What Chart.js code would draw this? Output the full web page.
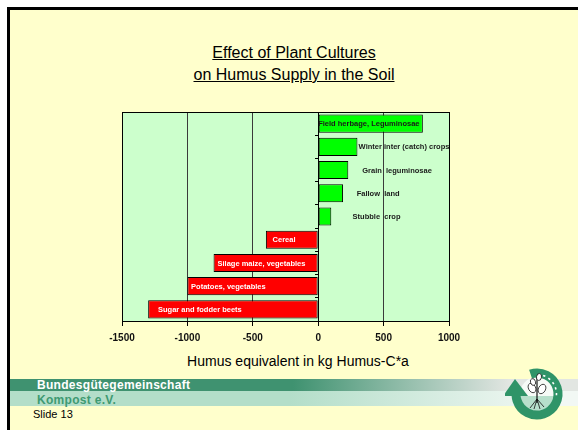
<!DOCTYPE html>
<html>
<head>
<meta charset="utf-8">
<script src="https://cdn.jsdelivr.net/npm/chart.js@4.4.0/dist/chart.umd.min.js"></script>
<style>
  body { margin: 0; width: 578px; height: 430px; overflow: hidden; position: relative; background: #fff;
         font-family: "Liberation Sans", Arial, sans-serif; }
  #slide { position: absolute; left: 7px; top: 7px; width: 600px; height: 440px;
           border-left: 3px solid #000; border-top: 3px solid #000; background: #FFFFCC; }
  #ghost { position: absolute; left: 6px; top: -17px; font-size: 18px; font-weight: bold; color: #9a9a9a; }
  #title { position: absolute; left: 94px; top: 42px; width: 400px; text-align: center;
           font-size: 16px; line-height: 22px; color: #000; text-decoration: underline; }
  #xtitle { position: absolute; left: 98px; top: 353px; width: 400px; text-align: center;
            font-size: 14px; line-height: 16px; color: #000; }
  #barDark { position: absolute; left: 10px; top: 379px; width: 568px; height: 12px;
             background: linear-gradient(to right, #3F9270 0, #3F9270 283px, #E2E6E2 500px); }
  #barLight { position: absolute; left: 10px; top: 391px; width: 568px; height: 15px;
              background: linear-gradient(to right, #B3DEC9 0, #B3DEC9 280px, #F2F8F4 540px); }
  #org1 { position: absolute; left: 37px; top: 379px; font-size: 12px; line-height: 12px; font-weight: bold;
          color: #fff; letter-spacing: 0.3px; }
  #org2 { position: absolute; left: 37px; top: 394px; font-size: 12px; line-height: 12px; font-weight: bold;
          color: #3E9A72; letter-spacing: 0.3px; }
  #slideNo { position: absolute; left: 33px; top: 409px; font-size: 11px; line-height: 11px; color: #000; }
  #wrap { position: absolute; left: 0; top: 0; width: 578px; height: 430px; }
  #logo { position: absolute; left: 505px; top: 362px; }
</style>
</head>
<body>
<div id="slide"></div>
<div id="ghost">Slide 13</div>
<div id="title">Effect of Plant Cultures<br>on Humus Supply in the Soil</div>
<div id="barDark"></div>
<div id="barLight"></div>
<div id="org1">Bundesgütegemeinschaft</div>
<div id="org2">Kompost e.V.</div>
<div id="slideNo">Slide 13</div>
<div id="xtitle">Humus equivalent in kg Humus-C*a</div>
<canvas id="logo" width="66" height="66"></canvas>
<div id="wrap"><canvas id="humusChart"></canvas></div>

<script>
// categories top to bottom
const categories = ['Field herbage, Leguminosae', 'Winter inter (catch) crops', 'Grain  leguminosae',
  'Fallow  land', 'Stubble  crop', 'Cereal', 'Silage maize, vegetables', 'Potatoes, vegetables',
  'Sugar and fodder beets'];
// humus equivalent, kg Humus-C per year
const humus = [800, 300, 230, 190, 100, -400, -800, -1000, -1300];
const xTicks = [-1500, -1000, -500, 0, 500, 1000];

Chart.defaults.font.family = '"Liberation Sans", Arial, sans-serif';

// light green plot background + top border
const plotBg = {
  id: 'plotBg',
  beforeDraw(chart) {
    const ctx = chart.ctx, a = chart.chartArea;
    ctx.save();
    ctx.fillStyle = '#CCFFCC';
    ctx.fillRect(a.left, a.top, a.right - a.left, a.bottom - a.top);
    ctx.restore();
  },
  afterDraw(chart) {
    const ctx = chart.ctx, a = chart.chartArea;
    ctx.save();
    ctx.strokeStyle = '#000';
    ctx.lineWidth = 1;
    ctx.beginPath();
    ctx.moveTo(Math.round(a.left), Math.round(a.top) + 0.5);
    ctx.lineTo(Math.round(a.right) + 1, Math.round(a.top) + 0.5);
    ctx.stroke();
    ctx.restore();
  }
};

// category names written on / next to the bars
const barLabels = {
  id: 'barLabels',
  afterDatasetsDraw(chart, args, opts) {
    const ctx = chart.ctx;
    const meta = chart.getDatasetMeta(0);
    const x = chart.scales.x;
    ctx.save();
    ctx.font = 'bold 7.5px "Liberation Sans", Arial, sans-serif';
    ctx.textBaseline = 'middle';
    meta.data.forEach(function(bar, i) {
      ctx.fillStyle = humus[i] < 0 ? '#ffffff' : '#1a1a1a';
      ctx.fillText(categories[i], x.getPixelForValue(opts.starts[i]), bar.y + 0.5);
    });
    ctx.restore();
  }
};

const ctx = document.getElementById('humusChart').getContext('2d');
const chart = new Chart(ctx, {
  type: 'bar',
  data: {
    labels: categories,
    datasets: [{
      data: humus,
      backgroundColor: humus.map(v => v < 0 ? '#FF0000' : '#00FF00'),
      borderColor: '#000',
      borderWidth: 1,
      borderSkipped: false,
      barPercentage: 0.78,
      categoryPercentage: 1
    }]
  },
  options: {
    indexAxis: 'y',
    responsive: true,
    maintainAspectRatio: false,
    animation: false,
    events: [],
    layout: { padding: { left: 122, right: 129, top: 112, bottom: 80 } },
    plugins: {
      legend: { display: false },
      tooltip: { enabled: false },
      barLabels: { starts: [0, 309, 337, 294, 263, -349, -770, -972, -1225] }
    },
    scales: {
      x: {
        type: 'linear',
        min: -1500,
        max: 1000,
        afterBuildTicks: s => { s.ticks = xTicks.map(v => ({ value: v })); },
        grid: {
          color: c => (c.tick && [-1500, 0, 1000].includes(c.tick.value)) ? '#000' : '#3a3a3a',
          tickColor: '#000',
          tickLength: 5,
          lineWidth: 1
        },
        border: { color: '#000' },
        ticks: { color: '#111', padding: 6, font: { size: 10, weight: 'bold' }, callback: v => String(v) }
      },
      y: {
        type: 'category',
        position: { x: 0 },
        offset: true,
        grid: { drawOnChartArea: false, offset: true, tickLength: 3, color: '#000' },
        border: { color: '#000' },
        ticks: { display: false }
      }
    }
  },
  plugins: [plotBg, barLabels]
});

// association logo: green circular arrow with a plant
function drawLogo() {
  const g = document.getElementById('logo').getContext('2d');
  const cx = 32, cy = 32, r = 21;
  // inner disc
  g.fillStyle = '#F6FAF6';
  g.beginPath(); g.arc(cx, cy, 17, 0, Math.PI * 2); g.fill();
  g.fillStyle = '#B7DFCB';
  g.beginPath(); g.arc(cx, cy, 17, 0.12, Math.PI - 0.12); g.closePath(); g.fill();
  // ring
  g.strokeStyle = '#2F9468';
  g.lineWidth = 9;
  g.beginPath(); g.arc(cx, cy, r, -Math.PI * 0.6, Math.PI * 0.98); g.stroke();
  // arrow head pointing up on the left
  g.fillStyle = '#2F9468';
  g.beginPath(); g.moveTo(cx - r - 13, cy + 2); g.lineTo(cx - r + 12, cy + 2); g.lineTo(cx - r - 1, cy - 15); g.closePath(); g.fill();
  // white dashes on the ring
  g.strokeStyle = '#fff';
  g.lineWidth = 1.6;
  [-1.25, -0.95, -0.65, -0.35, -0.05].forEach(function(a) {
    g.beginPath();
    g.moveTo(cx + Math.cos(a) * (r - 1.5), cy + Math.sin(a) * (r - 1.5));
    g.lineTo(cx + Math.cos(a + 0.12) * (r - 1.5), cy + Math.sin(a + 0.12) * (r - 1.5));
    g.stroke();
  });
  // plant
  g.strokeStyle = '#111';
  g.lineWidth = 1.2;
  g.beginPath(); g.moveTo(cx, cy - 17); g.lineTo(cx, cy + 9); g.stroke();
  g.fillStyle = '#fff';
  g.lineWidth = 0.8;
  [[cx - 5, cy - 6, -0.5], [cx + 5, cy - 5, 0.5], [cx - 4, cy - 12, -0.3], [cx + 2, cy - 17, 0.2]].forEach(function(l, i) {
    g.beginPath(); g.ellipse(l[0], l[1], i < 2 ? 3.5 : 2.5, i < 2 ? 5 : 3.5, l[2], 0, Math.PI * 2); g.fill(); g.stroke();
  });
  // roots
  g.lineWidth = 0.8;
  [[-7, 14], [-3, 15], [3, 15], [7, 13]].forEach(function(p) {
    g.beginPath(); g.moveTo(cx, cy + 5); g.lineTo(cx + p[0], cy + p[1]); g.stroke();
  });
}
drawLogo();
</script>
</body>
</html>
